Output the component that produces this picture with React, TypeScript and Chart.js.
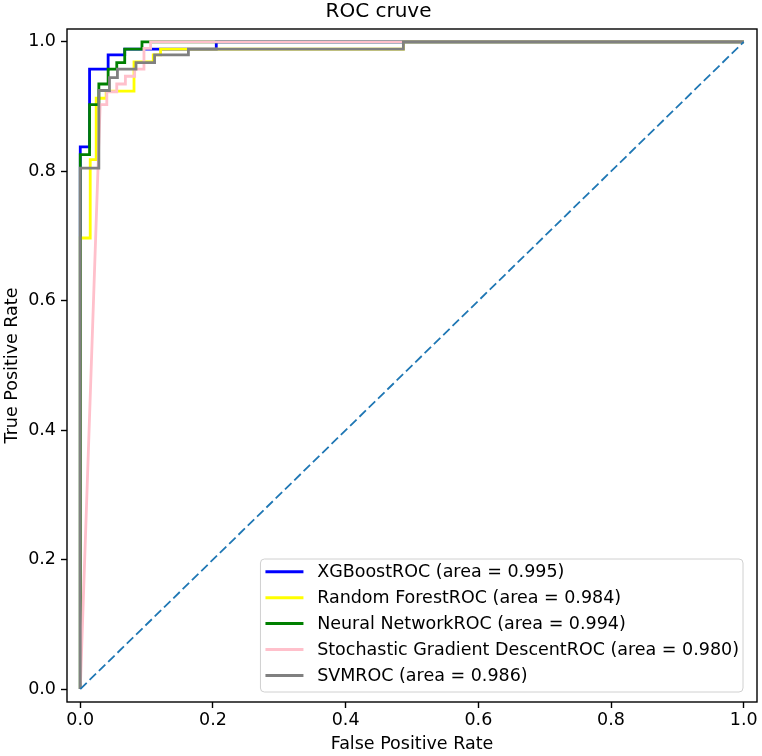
import React, { useEffect, useRef } from "react";
import { Chart, registerables } from "chart.js";

Chart.register(...registerables);

// ---- data ----
const modelNames = [
  "XGBoostROC (area = 0.995)",
  "Random ForestROC (area = 0.984)",
  "Neural NetworkROC (area = 0.994)",
  "Stochastic Gradient DescentROC (area = 0.980)",
  "SVMROC (area = 0.986)",
];
const modelColors = ["#0000ff", "#ffff00", "#008000", "#ffc0cb", "#808080"];

const xgbFpr = [0, 0, 0.014, 0.014, 0.042, 0.042, 0.067, 0.067, 0.205, 0.205, 1];
const xgbTpr = [0, 0.838, 0.838, 0.958, 0.958, 0.98, 0.98, 0.989, 0.989, 1.0, 1.0];

const rfFpr = [0, 0, 0.015, 0.015, 0.024, 0.024, 0.039, 0.039, 0.081, 0.081, 0.11, 0.11, 0.121, 0.121, 0.487, 0.487, 1];
const rfTpr = [0, 0.697, 0.697, 0.818, 0.818, 0.913, 0.913, 0.924, 0.924, 0.969, 0.969, 0.98, 0.98, 0.989, 0.989, 1.0, 1.0];

const nnFpr = [0, 0, 0.014, 0.014, 0.028, 0.028, 0.042, 0.042, 0.055, 0.055, 0.067, 0.067, 0.093, 0.093, 1];
const nnTpr = [0, 0.826, 0.826, 0.903, 0.903, 0.935, 0.935, 0.958, 0.958, 0.968, 0.968, 0.989, 0.989, 1.0, 1.0];

const sgdFpr = [0, 0.03, 0.04, 0.04, 0.055, 0.055, 0.068, 0.068, 0.082, 0.082, 0.096, 0.096, 0.106, 0.106, 1];
const sgdTpr = [0, 0.903, 0.903, 0.923, 0.923, 0.935, 0.935, 0.947, 0.947, 0.958, 0.958, 0.99, 0.99, 1.0, 1.0];

const svmFpr = [0, 0, 0.028, 0.028, 0.044, 0.044, 0.056, 0.056, 0.084, 0.084, 0.112, 0.112, 0.163, 0.163, 0.487, 0.487, 1];
const svmTpr = [0, 0.805, 0.805, 0.925, 0.925, 0.945, 0.945, 0.958, 0.958, 0.968, 0.968, 0.98, 0.98, 0.989, 0.989, 1.0, 1.0];

const chanceFpr = [0, 1];
const chanceTpr = [0, 1];

const axisMin = -0.02;
const axisMax = 1.02;
const tickValues = [0, 0.2, 0.4, 0.6, 0.8, 1.0];

const titleText = "ROC cruve";
const xLabel = "False Positive Rate";
const yLabel = "True Positive Rate";

const FONT = "'DejaVu Sans', sans-serif";

const toPoints = (xs: number[], ys: number[]) => xs.map((x, i) => ({ x, y: ys[i] }));

const framePlugin = {
  id: "frame",
  afterDatasetsDraw(chart: any) {
    const { ctx, chartArea } = chart;
    ctx.save();
    ctx.strokeStyle = "#000";
    ctx.lineWidth = 1.4;
    ctx.strokeRect(chartArea.left, chartArea.top, chartArea.right - chartArea.left, chartArea.bottom - chartArea.top);
    ctx.restore();
  },
};

const legendPlugin = {
  id: "mplLegend",
  afterDraw(chart: any) {
    const { ctx, chartArea } = chart;
    const items = chart.data.datasets.filter((d: any) => d.inLegend);
    const fontSize = 17.5;
    ctx.save();
    ctx.font = `${fontSize}px ${FONT}`;
    let maxW = 0;
    items.forEach((d: any) => {
      maxW = Math.max(maxW, ctx.measureText(d.label).width);
    });
    const padL = 5;
    const handle = 38;
    const gap = 13.7;
    const padR = 4;
    const pitch = 25.9;
    const w = padL + handle + gap + maxW + padR;
    const h = 133;
    const right = chartArea.right - 14;
    const bottom = chartArea.bottom - 10;
    const left = right - w;
    const top = bottom - h;
    const r = 4;
    ctx.beginPath();
    ctx.moveTo(left + r, top);
    ctx.lineTo(left + w - r, top);
    ctx.quadraticCurveTo(left + w, top, left + w, top + r);
    ctx.lineTo(left + w, top + h - r);
    ctx.quadraticCurveTo(left + w, top + h, left + w - r, top + h);
    ctx.lineTo(left + r, top + h);
    ctx.quadraticCurveTo(left, top + h, left, top + h - r);
    ctx.lineTo(left, top + r);
    ctx.quadraticCurveTo(left, top, left + r, top);
    ctx.closePath();
    ctx.fillStyle = "rgba(255,255,255,0.8)";
    ctx.fill();
    ctx.strokeStyle = "#d0d0d0";
    ctx.lineWidth = 1;
    ctx.stroke();
    items.forEach((d: any, i: number) => {
      const cy = top + 12.8 + i * pitch;
      ctx.beginPath();
      ctx.strokeStyle = d.borderColor;
      ctx.lineWidth = 3;
      ctx.moveTo(left + padL, cy);
      ctx.lineTo(left + padL + handle, cy);
      ctx.stroke();
      ctx.fillStyle = "#000";
      ctx.textBaseline = "middle";
      ctx.textAlign = "left";
      ctx.fillText(d.label, left + padL + handle + gap, cy + 1);
    });
    ctx.restore();
  },
};

export default function App() {
  const canvasRef = useRef<HTMLCanvasElement | null>(null);

  useEffect(() => {
    const canvas = canvasRef.current;
    if (!canvas) return;
    const fprs = [xgbFpr, rfFpr, nnFpr, sgdFpr, svmFpr];
    const tprs = [xgbTpr, rfTpr, nnTpr, sgdTpr, svmTpr];
    const datasets: any[] = modelNames.map((name, i) => ({
      label: name,
      data: toPoints(fprs[i], tprs[i]),
      borderColor: modelColors[i],
      backgroundColor: modelColors[i],
      borderWidth: 2.8,
      pointRadius: 0,
      showLine: true,
      fill: false,
      tension: 0,
      order: modelNames.length - i + 1,
      inLegend: true,
    }));
    datasets.push({
      label: "chance",
      data: toPoints(chanceFpr, chanceTpr),
      borderColor: "#1f77b4",
      backgroundColor: "#1f77b4",
      borderWidth: 1.8,
      borderDash: [9, 4],
      pointRadius: 0,
      showLine: true,
      fill: false,
      order: 0,
      inLegend: false,
    });

    const tickFont = { family: FONT, size: 17.5 };
    const fixedTicks = (s: any) => {
      s.ticks = tickValues.map((v) => ({ value: v }));
    };
    const chart = new Chart(canvas, {
      type: "scatter",
      data: { datasets },
      options: {
        animation: false,
        responsive: false,
        events: [],
        layout: { padding: { left: 0, right: 5, top: 0, bottom: 0 } },
        plugins: {
          legend: { display: false },
          tooltip: { enabled: false },
          title: {
            display: true,
            text: titleText,
            color: "#000",
            font: { family: FONT, size: 20, weight: "normal" },
            padding: { top: 0, bottom: 5 },
          },
        },
        scales: {
          x: {
            type: "linear",
            min: axisMin,
            max: axisMax,
            bounds: "data",
            afterBuildTicks: fixedTicks,
            afterFit: (s: any) => {
              s.height = 54;
            },
            ticks: {
              color: "#000",
              font: tickFont,
              padding: 2,
              maxRotation: 0,
              autoSkip: false,
              callback: (v: any) => Number(v).toFixed(1),
            },
            grid: {
              display: true,
              drawOnChartArea: false,
              drawTicks: true,
              tickLength: 6,
              tickColor: "#000",
              tickWidth: 1.4,
            },
            border: { display: false },
            title: {
              display: true,
              text: xLabel,
              color: "#000",
              font: tickFont,
              padding: { top: 0, bottom: 1 },
            },
          },
          y: {
            type: "linear",
            min: axisMin,
            max: axisMax,
            bounds: "data",
            afterBuildTicks: fixedTicks,
            afterFit: (s: any) => {
              s.width = 67;
            },
            ticks: {
              color: "#000",
              font: tickFont,
              padding: 5,
              autoSkip: false,
              callback: (v: any) => Number(v).toFixed(1),
            },
            grid: {
              display: true,
              drawOnChartArea: false,
              drawTicks: true,
              tickLength: 6,
              tickColor: "#000",
              tickWidth: 1.4,
            },
            border: { display: false },
            title: {
              display: true,
              text: yLabel,
              color: "#000",
              font: tickFont,
              padding: { top: 2, bottom: 0 },
            },
          },
        },
      } as any,
      plugins: [framePlugin, legendPlugin],
    });
    return () => chart.destroy();
  }, []);

  return (
    <div style={{ position: "absolute", left: 0, top: 0, width: 762, height: 756, background: "#fff" }}>
      <canvas ref={canvasRef} width={762} height={756} style={{ width: 762, height: 756 }} />
    </div>
  );
}
